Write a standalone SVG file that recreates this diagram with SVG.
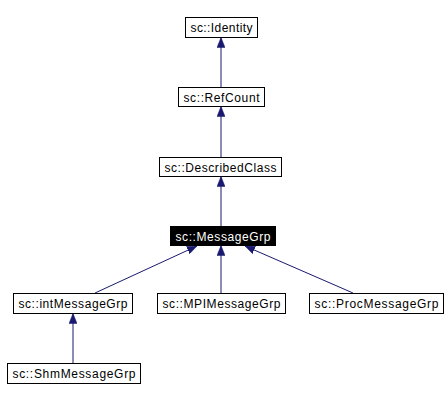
<svg xmlns="http://www.w3.org/2000/svg" width="448" height="401" viewBox="0 0 448 401">
<defs>
<marker id="ah" markerWidth="10" markerHeight="8" refX="10" refY="4" orient="auto" markerUnits="userSpaceOnUse">
<path d="M0,0 L10,4 L0,8 Z" fill="#191970" stroke="#191970" stroke-width="0.5"/>
</marker>
<style>
.box{fill:#fff;stroke:#000;stroke-width:1}
.sel{fill:#000;stroke:#000;stroke-width:1}
.t{font-family:"Liberation Sans",Arial,sans-serif;font-size:12px;fill:#000;text-anchor:middle}
.tw{font-family:"Liberation Sans",Arial,sans-serif;font-size:12px;fill:#fff;text-anchor:middle}
.e{stroke:#191970;stroke-width:1;fill:none;marker-end:url(#ah)}
</style>
</defs>
<rect width="448" height="401" fill="#fff"/>
<g id="connectors">
<line class="e" x1="221" y1="87" x2="221" y2="37.5"/>
<line class="e" x1="221" y1="157" x2="221" y2="106.5"/>
<line class="e" x1="221" y1="226" x2="221" y2="176.5"/>
<line class="e" x1="95" y1="293" x2="197" y2="246"/>
<line class="e" x1="221" y1="293" x2="221" y2="245.5"/>
<line class="e" x1="353" y1="293" x2="245" y2="246"/>
<line class="e" x1="73" y1="363" x2="73" y2="313.5"/>
</g>
<g id="identity">
<rect class="box" x="185.5" y="17.5" width="72" height="20"/>
<text class="t" x="221.5" y="32" textLength="62" lengthAdjust="spacing">sc::Identity</text>
</g>
<g id="refcount">
<rect class="box" x="178.5" y="87.5" width="86" height="19"/>
<text class="t" x="221.5" y="101.5" textLength="76" lengthAdjust="spacing">sc::RefCount</text>
</g>
<g id="describedclass">
<rect class="box" x="159.5" y="157.5" width="122" height="19"/>
<text class="t" x="220.5" y="171.5" textLength="112" lengthAdjust="spacing">sc::DescribedClass</text>
</g>
<g id="messagegrp">
<rect class="sel" x="170.5" y="226.5" width="105" height="19"/>
<text class="tw" x="223" y="240.5" textLength="95" lengthAdjust="spacing">sc::MessageGrp</text>
</g>
<g id="intmessagegrp">
<rect class="box" x="13.5" y="293.5" width="119" height="20"/>
<text class="t" x="73" y="308" textLength="109" lengthAdjust="spacing">sc::intMessageGrp</text>
</g>
<g id="mpimessagegrp">
<rect class="box" x="157.5" y="293.5" width="128" height="20"/>
<text class="t" x="221.5" y="308" textLength="118" lengthAdjust="spacing">sc::MPIMessageGrp</text>
</g>
<g id="procmessagegrp">
<rect class="box" x="309.5" y="293.5" width="134" height="20"/>
<text class="t" x="376.5" y="308" textLength="124" lengthAdjust="spacing">sc::ProcMessageGrp</text>
</g>
<g id="shmmessagegrp">
<rect class="box" x="7.5" y="363.5" width="133" height="20"/>
<text class="t" x="74" y="378" textLength="123" lengthAdjust="spacing">sc::ShmMessageGrp</text>
</g>
</svg>
